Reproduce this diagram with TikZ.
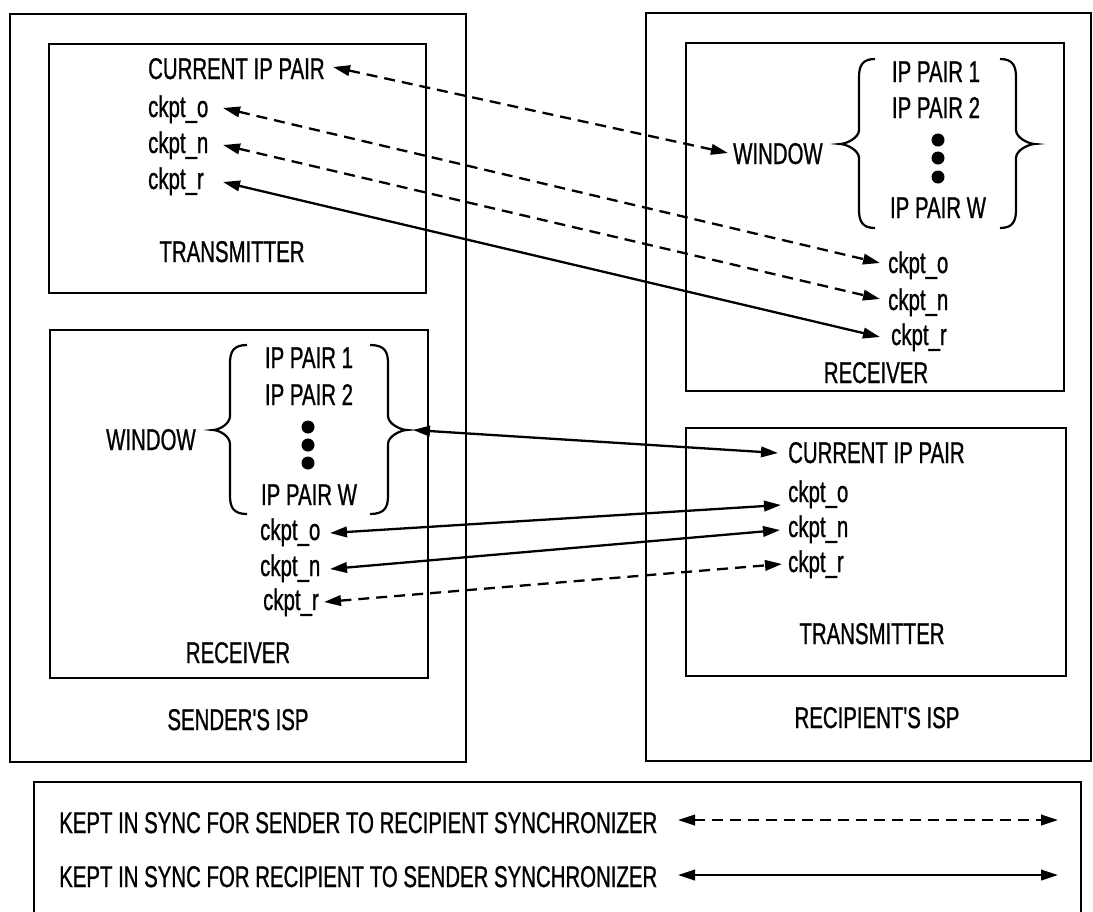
\documentclass[tikz,border=0pt]{standalone}
\usepackage{fontspec}
\newfontfamily\narrowsansfam[FakeStretch=0.68,FakeBold=0.8]{Liberation Sans}
\newcommand{\labelfnt}{\narrowsansfam\fontsize{30}{35}\selectfont}
\usetikzlibrary{arrows.meta}
\tikzset{
  box/.style={draw, line width=2.4pt},
  lbl/.style={font=\labelfnt, inner sep=0pt, anchor=base west},
  lblc/.style={font=\labelfnt, inner sep=0pt, anchor=base},
  sync/.style={line width=2.3pt, {Triangle[length=17pt,width=10.5pt]}-{Triangle[length=17pt,width=10.5pt]}},
  dsh/.style={sync, dash pattern=on 11pt off 7pt},
  brc/.style={line width=2.2pt},
  dotnode/.style={fill=black, circle, minimum size=13pt, inner sep=0pt}
}
\begin{document}
\begin{tikzpicture}[x=1pt,y=-1pt]
\useasboundingbox (0,0) rectangle (1093,911);
\fill[white] (0,0) rectangle (1093,911);

% ---------- outer boxes ----------
\draw[box] (10,14) rectangle (466,762);
\draw[box] (646,13) rectangle (1091,761);
\draw[box] (34,913) -- (34,782) -- (1081,782) -- (1081,913);

% ---------- sender's transmitter ----------
\draw[box] (49,44) rectangle (426,293);
\node[lbl] (ltCur) at (148,79) {CURRENT IP PAIR};
\node[lbl] (ltO) at (148,117) {ckpt\_o};
\node[lbl] (ltN) at (148,153) {ckpt\_n};
\node[lbl] (ltR) at (148,189) {ckpt\_r};
\node[lblc] (ltT) at (232,262) {TRANSMITTER};

% ---------- sender's receiver ----------
\draw[box] (50,330) rectangle (428,678);
\node[lbl] (lrWin) at (106,450) {WINDOW};
\node[lblc] (lrP1) at (309,368) {IP PAIR 1};
\node[lblc] (lrP2) at (309,405) {IP PAIR 2};
\node[dotnode] (lrD1) at (308,427) {};
\node[dotnode] (lrD2) at (308,445) {};
\node[dotnode] (lrD3) at (308,463) {};
\node[lblc] (lrPW) at (309,505) {IP PAIR W};
\node[lbl] (lrO) at (260,540) {ckpt\_o};
\node[lbl] (lrN) at (260,576) {ckpt\_n};
\node[lbl] (lrR) at (263,610) {ckpt\_r};
\node[lblc] (lrRec) at (238,663) {RECEIVER};
\node[lblc] (sISP) at (238,730) {SENDER'S ISP};
\draw[brc] (247,345) .. controls (234,345) and (230,351) .. (230,363) -- (230,416)
  .. controls (230,424) and (219,430) .. (213,430)
  .. controls (219,430) and (230,436) .. (230,444) -- (230,496)
  .. controls (230,508) and (234,514) .. (247,514);
\draw[brc] (370,345) .. controls (384,345) and (388,351) .. (388,363) -- (388,416)
  .. controls (388,424) and (401,430) .. (407,430)
  .. controls (401,430) and (388,436) .. (388,444) -- (388,496)
  .. controls (388,508) and (384,514) .. (370,514);

% ---------- recipient's receiver ----------
\draw[box] (686,43) rectangle (1064,391);
\node[lbl] (rrWin) at (733,164) {WINDOW};
\node[lblc] (rrP1) at (936,82) {IP PAIR 1};
\node[lblc] (rrP2) at (936,118) {IP PAIR 2};
\node[dotnode] (rrD1) at (938,140) {};
\node[dotnode] (rrD2) at (938,158) {};
\node[dotnode] (rrD3) at (938,177) {};
\node[lblc] (rrPW) at (938,218) {IP PAIR W};
\node[lbl] (rrO) at (888,273) {ckpt\_o};
\node[lbl] (rrN) at (888,310) {ckpt\_n};
\node[lbl] (rrR) at (891,345) {ckpt\_r};
\node[lblc] (rrRec) at (876,383) {RECEIVER};
\draw[brc] (875,59) .. controls (863,59) and (859,65) .. (859,77) -- (859,130)
  .. controls (859,138) and (846,144) .. (840,144)
  .. controls (846,144) and (859,150) .. (859,158) -- (859,210)
  .. controls (859,222) and (863,228) .. (875,228);
\draw[brc] (1000,59) .. controls (1012,59) and (1016,65) .. (1016,77) -- (1016,130)
  .. controls (1016,138) and (1029,144) .. (1035,144)
  .. controls (1029,144) and (1016,150) .. (1016,158) -- (1016,210)
  .. controls (1016,222) and (1012,228) .. (1000,228);

% ---------- recipient's transmitter ----------
\draw[box] (686,428) rectangle (1066,676);
\node[lbl] (rtCur) at (788,463) {CURRENT IP PAIR};
\node[lbl] (rtO) at (788,502) {ckpt\_o};
\node[lbl] (rtN) at (788,537) {ckpt\_n};
\node[lbl] (rtR) at (788,572) {ckpt\_r};
\node[lblc] (rtT) at (872,644) {TRANSMITTER};
\node[lblc] (rISP) at (877,728) {RECIPIENT'S ISP};

% ---------- connector end points ----------
\coordinate (c1a) at (333,67);  \coordinate (c1b) at (728,153);
\coordinate (c2a) at (223,108); \coordinate (c2b) at (880,263);
\coordinate (c3a) at (223,145); \coordinate (c3b) at (880,299);
\coordinate (c4a) at (223,182); \coordinate (c4b) at (880,337);
\coordinate (c5a) at (413,430); \coordinate (c5b) at (778,453);
\coordinate (c6a) at (330,533); \coordinate (c6b) at (781,505);
\coordinate (c7a) at (330,569); \coordinate (c7b) at (780,530);
\coordinate (c8a) at (324,602); \coordinate (c8b) at (782,564);

\draw[dsh] (c1a) -- (c1b);
\draw[dsh] (c2a) -- (c2b);
\draw[dsh] (c3a) -- (c3b);
\draw[sync] (c4a) -- (c4b);
\draw[sync] (c5a) -- (c5b);
\draw[sync] (c6a) -- (c6b);
\draw[sync] (c7a) -- (c7b);
\draw[dsh] (c8a) -- (c8b);

% ---------- legend ----------
\node[lbl] (leg1) at (59,833) {KEPT IN SYNC FOR SENDER TO RECIPIENT SYNCHRONIZER};
\node[lbl] (leg2) at (59,887) {KEPT IN SYNC FOR RECIPIENT TO SENDER SYNCHRONIZER};
\coordinate (l1a) at (678,820); \coordinate (l1b) at (1058,820);
\coordinate (l2a) at (678,875); \coordinate (l2b) at (1058,875);
\draw[dsh] (l1a) -- (l1b);
\draw[sync] (l2a) -- (l2b);
\end{tikzpicture}
\end{document}
